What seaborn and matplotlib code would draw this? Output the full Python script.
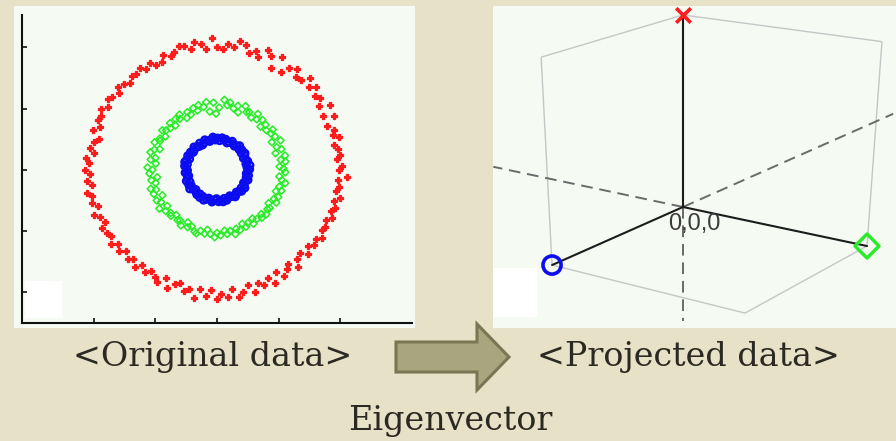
import numpy as np
import pandas as pd
import matplotlib
matplotlib.use("Agg")
import matplotlib.pyplot as plt
from matplotlib.patches import Rectangle, Polygon
import seaborn as sns

# ---------------- data ----------------
# Original 2-D data: three concentric noisy rings, given as polar samples
red_angle = [0, 2, 5, 7, 10, 12, 15, 17, 19, 22, 25, 27, 30,
             32, 35, 37, 40, 42, 45, 47, 50, 52, 55, 57, 60,
             62, 65, 67, 70, 72, 75, 77, 80, 82, 85, 87, 90,
             92, 95, 97, 100, 102, 105, 107, 110, 112, 115, 117, 120,
             122, 125, 127, 130, 132, 135, 137, 140, 142, 145, 147, 150,
             152, 155, 157, 160, 162, 165, 167, 170, 172, 175, 177, 180,
             182, 185, 187, 190, 192, 195, 197, 200, 202, 205, 207, 210,
             212, 215, 217, 220, 222, 225, 227, 230, 232, 235, 237, 240,
             242, 245, 247, 250, 252, 255, 257, 260, 262, 265, 267, 270,
             272, 275, 277, 280, 282, 285, 287, 290, 292, 295, 297, 300,
             302, 305, 307, 310, 312, 315, 317, 320, 322, 325, 327, 330,
             332, 335, 337, 340, 342, 345, 347, 350, 352, 355, 357]
red_radius = [1.98, 2.03, 1.96, 2.01, 1.99, 1.95, 2.06, 1.97, 2.02, 1.92, 2.10, 1.94, 2.12,
              1.96, 2.05, 2.00, 2.11, 2.02, 2.13, 2.01, 1.99, 2.10, 2.04, 1.90, 2.12,
              1.88, 2.06, 2.12, 1.97, 2.04, 1.98, 2.10, 2.13, 2.02, 2.07, 1.97, 2.00,
              2.15, 1.98, 2.08, 2.12, 2.02, 2.09, 2.12, 2.05, 2.00, 2.07, 1.98, 1.97,
              2.06, 2.02, 2.09, 2.04, 2.07, 2.00, 2.06, 2.11, 2.03, 2.08, 2.12, 2.05,
              2.13, 2.08, 2.10, 2.03, 2.12, 1.98, 2.05, 2.10, 2.02, 2.14, 2.08, 2.15,
              2.07, 2.12, 2.05, 2.14, 2.08, 2.10, 2.03, 2.13, 2.06, 2.00, 2.09, 2.07,
              2.03, 2.10, 2.02, 2.07, 1.98, 2.05, 2.00, 2.08, 1.97, 2.04, 1.96, 2.02,
              2.08, 1.95, 2.10, 1.99, 1.94, 2.05, 2.00, 2.12, 1.97, 2.06, 1.96, 2.10,
              2.02, 2.08, 1.96, 2.10, 2.04, 1.94, 2.09, 1.97, 2.03, 1.95, 2.08, 1.93,
              2.05, 1.97, 1.92, 2.06, 1.95, 1.91, 2.02, 1.94, 2.00, 1.96, 2.03, 1.97,
              1.99, 1.95, 2.03, 1.98, 2.02, 1.97, 2.05, 1.96, 2.00, 1.98, 2.12]

green_angle = [1, 3, 7, 9, 12, 16, 18, 21, 25, 27, 30, 34, 36, 39, 43,
               45, 48, 52, 54, 57, 61, 63, 66, 70, 72, 75, 79, 81, 84, 88,
               91, 93, 97, 99, 102, 106, 108, 111, 115, 117, 120, 124, 126, 129, 133,
               135, 138, 142, 144, 147, 151, 153, 156, 160, 162, 165, 169, 171, 174, 178,
               180, 183, 187, 189, 192, 196, 198, 201, 205, 207, 210, 214, 216, 219, 223,
               225, 228, 232, 234, 237, 241, 243, 246, 250, 252, 255, 259, 261, 264, 268,
               270, 273, 277, 279, 282, 286, 288, 291, 295, 297, 300, 304, 306, 309, 313,
               315, 318, 322, 324, 327, 331, 333, 336, 340, 342, 345, 349, 351, 354, 358]
green_radius = [1.08, 1.02, 1.12, 1.05, 1.13, 0.99, 1.10, 1.04, 1.14, 1.00, 1.09, 1.06,
                1.12, 1.03, 1.08, 1.00, 1.10, 1.05, 1.13, 1.02, 1.08, 1.06, 1.14, 1.00,
                1.10, 1.04, 1.12, 1.07, 1.15, 1.02, 0.92, 1.10, 0.96, 1.12, 1.05, 1.10,
                1.02, 1.08, 1.00, 1.06, 0.98, 1.09, 1.03, 1.07, 0.99, 1.08, 1.02, 1.05,
                1.10, 1.00, 1.06, 1.04, 1.11, 0.99, 1.07, 1.12, 1.02, 1.09, 1.00, 1.13,
                1.05, 1.10, 0.98, 1.08, 1.02, 1.12, 1.04, 1.10, 0.98, 1.10, 1.05, 1.13,
                1.00, 1.07, 1.03, 1.06, 0.99, 1.04, 1.02, 1.08, 0.98, 1.05, 1.01, 1.07,
                1.09, 1.03, 1.06, 0.99, 1.05, 1.10, 1.03, 1.07, 1.00, 1.06, 1.02, 1.09,
                1.01, 1.05, 0.97, 1.04, 1.00, 1.06, 0.98, 1.03, 1.07, 1.02, 1.08, 1.04,
                1.06, 1.00, 1.10, 1.04, 1.09, 1.02, 1.10, 1.05, 1.13, 1.07, 1.02, 1.11]

blue_angle = [1, 5, 8, 12, 16, 20, 24, 28, 31, 35,
              39, 43, 47, 51, 54, 58, 62, 66, 70, 74,
              77, 81, 85, 89, 93, 97, 100, 104, 108, 112,
              116, 120, 123, 127, 131, 135, 139, 143, 146, 150,
              154, 158, 162, 166, 169, 173, 177, 181, 185, 189,
              192, 196, 200, 204, 208, 212, 215, 219, 223, 227,
              231, 235, 238, 242, 246, 250, 254, 258, 261, 265,
              269, 273, 277, 281, 284, 288, 292, 296, 300, 304,
              307, 311, 315, 319, 323, 327, 330, 334, 338, 342,
              346, 350, 353, 357]
blue_radius = [0.53, 0.49, 0.54, 0.48, 0.52, 0.50, 0.47, 0.51, 0.53, 0.48,
               0.52, 0.49, 0.54, 0.51, 0.48, 0.50, 0.53, 0.49, 0.47, 0.52,
               0.50, 0.53, 0.48, 0.52, 0.49, 0.54, 0.51, 0.48, 0.50, 0.53,
               0.49, 0.47, 0.52, 0.48, 0.50, 0.53, 0.49, 0.48, 0.52, 0.50,
               0.53, 0.48, 0.52, 0.54, 0.49, 0.53, 0.50, 0.48, 0.52, 0.49,
               0.47, 0.50, 0.53, 0.48, 0.52, 0.49, 0.54, 0.50, 0.47, 0.50,
               0.52, 0.48, 0.53, 0.49, 0.54, 0.51, 0.48, 0.50, 0.53, 0.49,
               0.47, 0.52, 0.50, 0.53, 0.48, 0.52, 0.49, 0.47, 0.50, 0.53,
               0.51, 0.48, 0.50, 0.53, 0.49, 0.54, 0.51, 0.48, 0.50, 0.53,
               0.49, 0.52, 0.48, 0.50]

ring_names = ["outer", "middle", "inner"]
ring_colors = ["#ff1c1c", "#26ec26", "#0c0cf0"]
axis_ticks = [-2, -1, 0, 1, 2]

# Projected data: each ring collapses onto one eigenvector direction
proj_names = ["outer", "middle", "inner"]
proj_e1 = [0, 0, 1]
proj_e2 = [0, 1, 0]
proj_e3 = [1, 0, 0]
origin_label = "0,0,0"

left_title = "<Original data>"
right_title = "<Projected data>"
arrow_label = "Eigenvector"

# ---------------- style ----------------
sns.set_theme(style="white")
plt.rcParams["font.family"] = ["DejaVu Sans"]

W, H = 896, 441
SLIDE = "#e7e1c8"
PANEL = "#f5faf3"
INK = "#2b2a22"


def frac_rect(x0, y0, x1, y1):
    """Pixel box (top-left origin) -> figure-fraction [l, b, w, h]."""
    return [x0 / W, 1 - y1 / H, (x1 - x0) / W, (y1 - y0) / H]


def fig_box(f, x0, y0, x1, y1, color, z):
    l, b, w, h = frac_rect(x0, y0, x1, y1)
    f.add_artist(Rectangle((l, b), w, h, transform=f.transFigure,
                           facecolor=color, edgecolor="none", zorder=z))


fig = plt.figure(figsize=(W / 100, H / 100), dpi=100, facecolor=SLIDE)

# panel backgrounds and the small white blocks in their corners
fig_box(fig, 14, 6, 415, 328, PANEL, -2)
fig_box(fig, 493, 6, 896, 328, PANEL, -2)
fig_box(fig, 25, 281, 62, 318, "white", -1)
fig_box(fig, 493, 268, 537, 317, "white", -1)

# ---------------- left: original data ----------------
frames = []
for name, ang, rad in zip(ring_names,
                          [red_angle, green_angle, blue_angle],
                          [red_radius, green_radius, blue_radius]):
    t = np.deg2rad(np.asarray(ang, dtype=float))
    r = np.asarray(rad, dtype=float)
    frames.append(pd.DataFrame({"ring": name, "x": r * np.cos(t), "y": r * np.sin(t)}))
rings = pd.concat(frames, ignore_index=True)

ax = fig.add_axes(frac_rect(22, 15, 412, 323))
ax.set_facecolor("none")

ring_style = {
    "outer": dict(marker="P", s=20, linewidth=0.9),
    "middle": dict(marker="D", s=13, facecolor="none", linewidth=1.1),
    "inner": dict(marker="o", s=22, facecolor="none", linewidth=1.8),
}
for name, col in zip(ring_names, ring_colors):
    sub = rings[rings["ring"] == name]
    sns.scatterplot(data=sub, x="x", y="y", ax=ax, color=col, edgecolor=col,
                    legend=False, **ring_style[name])

ax.set_xlim(-3.17, 3.17)
ax.set_ylim(-2.5, 2.53)
ax.set_xticks(axis_ticks)
ax.set_yticks(axis_ticks)
ax.set_xlabel("")
ax.set_ylabel("")
for side in ("top", "right"):
    ax.spines[side].set_visible(False)
for side in ("left", "bottom"):
    ax.spines[side].set_color("#111111")
    ax.spines[side].set_linewidth(1.5)
ax.tick_params(axis="both", which="both", direction="in", length=3.5, width=1.2,
               colors="#111111", labelleft=False, labelbottom=False,
               left=True, bottom=True)

# ---------------- right: projected data ----------------
view_origin = np.array([683.0, 207.0])
view_basis = np.array([[-119.1, 171.2, 0.0],
                       [52.8, 36.3, -178.6]])
view_depth = np.array([-0.0905, -0.0695, -0.07])


def project(points):
    p = np.atleast_2d(np.asarray(points, dtype=float))
    d = 1.0 + p @ view_depth
    return (p @ view_basis.T) / d[:, None] + view_origin


ax2 = fig.add_axes(frac_rect(493, 6, 896, 328))
ax2.axis("off")

# bounding box edges (light grey)
box_edges = [((1, 0, 0), (1, 1, 0)), ((1, 1, 0), (0, 1, 0)),
             ((1, 0, 0), (1, 0, 1)), ((0, 1, 0), (0, 1, 1)),
             ((1, 0, 1), (0, 0, 1)), ((0, 0, 1), (0, 1, 1))]
for a, b in box_edges:
    seg = project([a, b])
    ax2.plot(seg[:, 0], seg[:, 1], color="#c6c6c6", lw=1.0, solid_capstyle="butt")

# negative half-axes (dashed)
for far in [(0, -1.2, 0), (-2.1, 0, 0), (0, 0, -0.67)]:
    seg = project([(0, 0, 0), far])
    ax2.plot(seg[:, 0], seg[:, 1], color="#6a6a6a", lw=1.4, dashes=(6, 3.5))

proj = pd.DataFrame({"name": proj_names, "e1": proj_e1, "e2": proj_e2, "e3": proj_e3})
pts = project(proj[["e1", "e2", "e3"]].to_numpy())
proj["px"] = pts[:, 0]
proj["py"] = pts[:, 1]

# eigenvector axes (solid black)
for _, row in proj.iterrows():
    seg = project([(0, 0, 0), (row.e1, row.e2, row.e3)])
    ax2.plot(seg[:, 0], seg[:, 1], color="#1c1c1c", lw=1.5)

proj_style = {
    "outer": dict(marker="x", s=110, linewidth=2.6),
    "middle": dict(marker="D", s=150, facecolor="none", linewidth=2.4),
    "inner": dict(marker="o", s=170, facecolor="none", linewidth=2.6),
}
for name, col in zip(proj_names, ring_colors):
    sub = proj[proj["name"] == name]
    sns.scatterplot(data=sub, x="px", y="py", ax=ax2, color=col, edgecolor=col,
                    legend=False, zorder=5, clip_on=False, **proj_style[name])
ax2.set_xlim(493, 896)
ax2.set_ylim(328, 6)

o = project([(0, 0, 0)])[0]
ax2.text(o[0] + 11, o[1] + 17, origin_label, ha="center", va="center",
         fontsize=17, color="#3c3c3c", family=["Liberation Sans", "DejaVu Sans"],
         zorder=6)

# ---------------- arrow and captions ----------------
arrow_px = [(396, 342), (477, 342), (477, 324), (509, 357), (477, 390), (477, 372), (396, 372)]
arrow_fr = [(x / W, 1 - y / H) for x, y in arrow_px]
fig.add_artist(Polygon(arrow_fr, closed=True, transform=fig.transFigure,
                       facecolor="#a9a57e", edgecolor="#7a7654", linewidth=2.2,
                       joinstyle="miter", zorder=3))

serif = ["DejaVu Serif"]
fig.text(213 / W, 1 - 366 / H, left_title, ha="center", va="baseline",
         fontsize=24, color=INK, family=serif)
fig.text(688 / W, 1 - 366 / H, right_title, ha="center", va="baseline",
         fontsize=24, color=INK, family=serif)
fig.text(450 / W, 1 - 430 / H, arrow_label, ha="center", va="baseline",
         fontsize=24, color=INK, family=serif)

fig.savefig("out.png", dpi=100, facecolor=SLIDE)
